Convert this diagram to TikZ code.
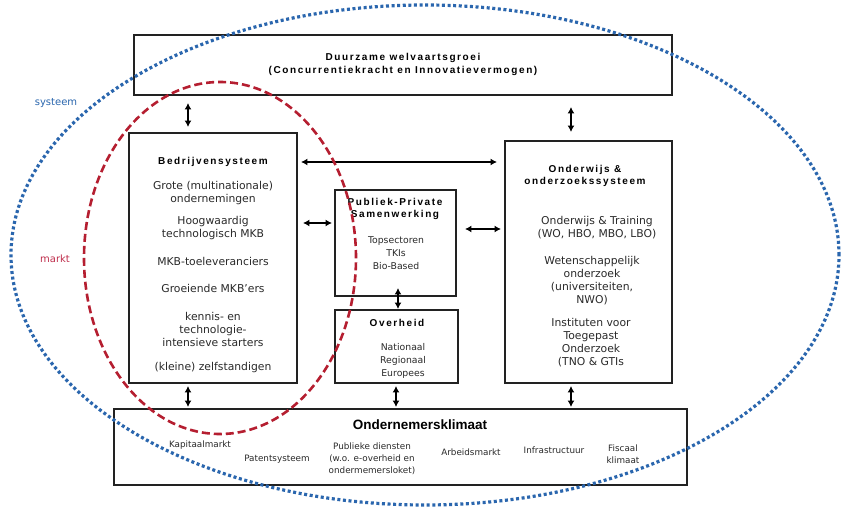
\documentclass[tikz,border=0pt]{standalone}
\usepackage{fontspec}
\setmainfont{DejaVu Sans}
\newfontfamily\ttlfont[LetterSpace=16]{Liberation Sans}
\newfontfamily\headfont{Liberation Sans}
\usetikzlibrary{arrows.meta}
\definecolor{txt}{HTML}{2A2A2A}
\definecolor{boxline}{HTML}{222222}
\definecolor{sysblue}{HTML}{2A66AE}
\definecolor{mktred}{HTML}{B51E30}
\definecolor{mkttxt}{HTML}{C0304E}
\begin{document}
\begin{tikzpicture}[x=1pt,y=-1pt,
  box/.style={draw=boxline,line width=1.9pt,fill=none,rectangle,inner sep=0pt},
  ttl/.style={font=\ttlfont\bfseries\fontsize{10}{12.5}\selectfont,text=black,align=center,inner sep=0pt},
  body/.style={font=\fontsize{10.8}{13}\selectfont,text=txt,align=center,inner sep=0pt},
  small/.style={font=\fontsize{9.3}{13}\selectfont,text=txt,align=center,inner sep=0pt},
  tiny/.style={font=\fontsize{8.8}{12}\selectfont,text=txt,align=center,inner sep=0pt},
  arr/.style={line width=1.6pt,draw=black,{Latex[length=6.5pt,width=7pt]}-{Latex[length=6.5pt,width=7pt]}},
]
\useasboundingbox (0,0) rectangle (846,508);
\fill[white] (0,0) rectangle (846,508);

% boxes
\node[box,minimum width=538pt,minimum height=60pt] (top) at (403,65) {};
\node[box,minimum width=168pt,minimum height=250pt] (bed) at (213,258) {};
\node[box,minimum width=121pt,minimum height=106pt] (pps) at (395.5,243) {};
\node[box,minimum width=123pt,minimum height=73pt] (ovh) at (396.5,346.5) {};
\node[box,minimum width=167pt,minimum height=242pt] (ond) at (588.5,262) {};
\node[box,minimum width=573pt,minimum height=76pt] (klim) at (400.5,447) {};

% column coordinates
\coordinate (c188) at (188,0);
\coordinate (c571) at (571,0);
\coordinate (c398) at (398,0);
\coordinate (c396) at (396,0);
\coordinate (r162) at (0,162);
\coordinate (r223) at (0,223);
\coordinate (r229) at (0,229);

% texts
\node[ttl] (ttop) at (403,64.5) {Duurzame welvaartsgroei\\(Concurrentiekracht en Innovatievermogen)};

\node[ttl] (tbed) at (213,162) {Bedrijvensysteem};
\node[body] (b1) at (213,193) {Grote (multinationale)\\ondernemingen};
\node[body] (b2) at (213,228) {Hoogwaardig\\technologisch MKB};
\node[body] (b3) at (213,261) {MKB-toeleveranciers};
\node[body] (b4) at (213,288) {Groeiende MKB’ers};
\node[body] (b5) at (213,329) {kennis- en\\technologie-\\intensieve starters};
\node[body] (b6) at (213,368) {(kleine) zelfstandigen};

\node[ttl] (tpps) at (395,209) {Publiek-Private\\Samenwerking};
\node[small] (p1) at (396,253.5) {Topsectoren\\TKIs\\Bio-Based};

\node[ttl] (tovh) at (397,323) {Overheid};
\node[small] (o1) at (403,361) {Nationaal\\Regionaal\\Europees};

\node[ttl] (tond) at (585,176) {Onderwijs \&\\onderzoekssysteem};
\node[body] (d1) at (597,227.5) {Onderwijs \& Training\\(WO, HBO, MBO, LBO)};
\node[body] (d2) at (592,280.5) {Wetenschappelijk\\onderzoek\\(universiteiten,\\NWO)};
\node[body] (d3) at (591,342.5) {Instituten voor\\Toegepast\\Onderzoek\\(TNO \& GTIs};

\node[font=\headfont\bfseries\fontsize{13.5}{15}\selectfont,text=black,inner sep=0pt] (tklim) at (420,425) {Ondernemersklimaat};
\node[tiny] (k1) at (200,445) {Kapitaalmarkt};
\node[tiny] (k2) at (277,459) {Patentsysteem};
\node[tiny] (k3) at (372,459) {Publieke diensten\\(w.o. e-overheid en\\ondermemersloket)};
\node[tiny] (k4) at (471,452) {Arbeidsmarkt};
\node[tiny] (k5) at (554,450) {Infrastructuur};
\node[tiny] (k6) at (623,454) {Fiscaal\\klimaat};

% arrows
\draw[arr,shorten <=7pt,shorten >=5pt] (top.south -| c188) -- (bed.north -| c188);
\draw[arr,shorten <=11pt,shorten >=8pt] (top.south -| c571) -- (ond.north -| c571);
\draw[arr,shorten <=3pt,shorten >=7pt] (bed.east |- r162) -- (ond.west |- r162);
\draw[arr,shorten <=5pt,shorten >=2pt] (bed.east |- r223) -- (pps.west |- r223);
\draw[arr,shorten <=8pt,shorten >=3pt] (pps.east |- r229) -- (ond.west |- r229);
\draw[arr] ([yshift=9pt]pps.south -| c398) -- (ovh.north -| c398);
\draw[arr,shorten <=2pt,shorten >=1pt] (bed.south -| c188) -- (klim.north -| c188);
\draw[arr,shorten <=2pt,shorten >=1pt] (ovh.south -| c396) -- (klim.north -| c396);
\draw[arr,shorten <=2pt,shorten >=1pt] (ond.south -| c571) -- (klim.north -| c571);

% ellipses
\coordinate (sysc) at (425,255);
\coordinate (mktc) at (220,258);
\draw[sysblue,line width=3.2pt,dash pattern=on 3pt off 2.6pt] (sysc) ellipse [x radius=414pt,y radius=250pt];
\draw[mktred,line width=2.6pt,dash pattern=on 8pt off 4pt] (mktc) ellipse [x radius=136pt,y radius=176pt];

\node[font=\fontsize{10}{12}\selectfont,text=sysblue,inner sep=0pt] (lsys) at (56,103) {systeem};
\node[font=\fontsize{10}{12}\selectfont,text=mkttxt,inner sep=0pt] (lmkt) at (55,259) {markt};
\end{tikzpicture}
\end{document}
